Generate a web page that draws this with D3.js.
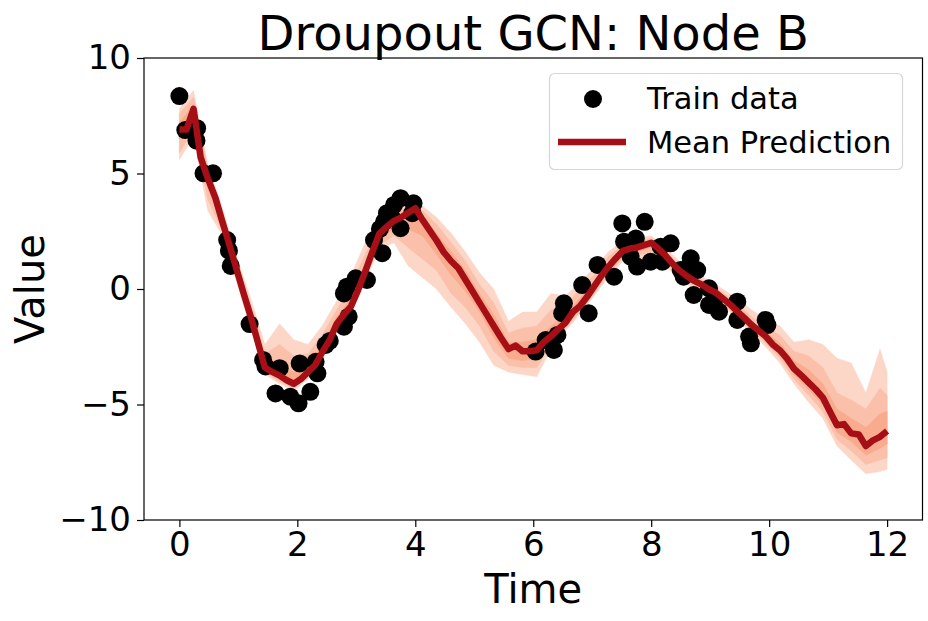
<!DOCTYPE html>
<html>
<head>
<meta charset="utf-8">
<script src="https://cdn.jsdelivr.net/npm/d3@7"></script>
<style>
  html, body { margin: 0; padding: 0; background: #fff; }
  svg { display: block; font-family: "DejaVu Sans", sans-serif; }
</style>
</head>
<body>
<svg id="chart" width="928" height="621"></svg>
<script>
// ---- Data ----
const trainT = [0.00,0.10,0.30,0.29,0.41,0.57,0.81,0.84,0.87,1.19,
  1.42,1.46,1.70,1.63,1.88,2.02,2.22,2.04,2.34,2.31,2.48,2.55,2.79,2.87,2.79,2.84,2.99,3.18,3.44,3.30,3.40,3.47,3.52,3.75,3.64,3.75,3.97,3.95,3.60,
  6.04,6.35,6.21,6.41,6.52,6.49,6.94,6.83,7.09,7.37,7.51,7.89,7.54,7.74,7.65,7.76,7.99,8.19,8.16,8.33,8.50,8.67,8.78,8.72,8.98,8.98,9.15,9.46,9.46,9.66,9.69,9.94,9.97,8.55,8.64,9.06];
const trainV = [8.35,6.88,6.96,6.42,5.01,5.01,2.12,1.66,1.00,-1.52,
  -3.07,-3.35,-3.43,-4.52,-4.66,-4.95,-4.45,-3.22,-3.65,-3.15,-2.42,-2.25,-1.63,-1.20,-0.19,0.10,0.46,0.39,1.55,2.12,2.60,2.91,3.28,2.63,3.64,3.93,3.71,3.28,3.10,
  -2.71,-2.64,-2.21,-1.99,-0.62,-1.05,-1.05,0.17,1.04,0.53,2.84,2.91,2.05,2.19,1.40,0.97,1.18,1.18,1.83,1.98,0.82,1.33,0.82,-0.26,0.03,-0.69,-0.98,-0.55,-1.34,-2.06,-2.35,-1.34,-1.56,0.53,0.97,-0.60];

const predT = [0.00,0.12,0.24,0.36,0.48,0.61,0.73,0.85,0.97,1.09,1.21,1.33,1.45,1.58,1.70,1.82,1.94,2.06,2.18,2.30,
  2.42,2.55,2.67,2.79,2.91,3.03,3.15,3.27,3.39,3.52,3.64,3.76,3.88,4.00,4.12,4.24,4.36,4.48,4.61,4.73,
  4.85,4.97,5.09,5.21,5.33,5.45,5.58,5.70,5.82,5.94,6.06,6.18,6.30,6.42,6.55,6.67,6.79,6.91,7.03,7.15,
  7.27,7.39,7.52,7.64,7.76,7.88,8.00,8.12,8.24,8.36,8.48,8.61,8.73,8.85,8.97,9.09,9.21,9.33,9.45,9.58,
  9.70,9.82,9.94,10.06,10.18,10.30,10.42,10.55,10.67,10.79,10.91,11.03,11.15,11.27,11.39,11.52,11.64,11.76,11.88,12.00];
const predMean = [6.9,6.9,7.8,5.7,4.8,3.95,2.9,1.9,0.85,-0.2,-1.2,-2.3,-3.4,-3.6,-3.75,-3.95,-4.1,-3.9,-3.6,-3.3,
  -2.75,-2.2,-1.5,-1.1,-0.75,-0.05,0.75,1.6,2.4,2.7,2.95,3.1,3.3,3.5,3.0,2.55,2.1,1.6,1.2,0.9,
  0.4,-0.1,-0.6,-1.1,-1.6,-2.1,-2.6,-2.45,-2.7,-2.7,-2.65,-2.3,-2.05,-1.75,-1.45,-1.0,-0.75,-0.35,0.1,0.55,
  0.95,1.3,1.65,1.75,1.8,1.9,2.0,1.75,1.45,1.1,0.8,0.55,0.35,0.2,0.0,-0.15,-0.4,-0.65,-0.95,-1.25,
  -1.55,-1.8,-2.05,-2.4,-2.65,-3.0,-3.45,-3.75,-4.05,-4.35,-4.7,-5.3,-5.9,-5.85,-6.25,-6.3,-6.8,-6.55,-6.4,-6.15];

const bandT = [0.00,0.24,0.48,0.73,0.97,1.21,1.45,1.70,1.94,2.18,2.42,2.67,2.91,3.15,3.39,3.64,3.88,4.12,4.36,4.61,
  4.85,5.09,5.33,5.58,5.82,6.06,6.30,6.55,6.79,7.03,7.27,7.52,7.76,8.00,8.24,8.48,8.73,8.97,9.21,9.45,
  9.70,9.94,10.18,10.42,10.67,10.91,11.15,11.39,11.64,11.88,12.00];
const outerLo = [5.6,6.6,3.4,2.3,0.3,-1.7,-3.7,-4.1,-4.4,-3.9,-3.0,-1.8,-1.0,0.4,1.7,2.0,1.0,0.5,0.0,-0.8,
  -1.5,-2.3,-3.3,-3.6,-3.7,-3.8,-2.6,-1.8,-1.1,-0.3,0.5,1.2,1.3,1.4,1.0,0.4,0.0,-0.3,-0.7,-1.3,
  -1.9,-2.5,-3.2,-4.1,-4.9,-5.6,-6.8,-7.4,-8.0,-7.9,-7.8];
const outerHi = [7.8,8.6,5.4,3.5,1.4,-0.4,-2.4,-1.5,-2.2,-2.4,-1.6,-0.5,0.6,2.0,3.0,3.4,3.8,3.6,3.1,2.4,
  1.6,0.7,0.0,-1.4,-1.0,-1.0,-0.2,-0.3,0.3,0.9,1.6,2.1,2.2,2.3,1.8,1.2,0.7,0.4,0.0,-0.4,
  -0.9,-1.3,-1.6,-2.3,-2.2,-2.4,-3.0,-3.2,-4.5,-2.6,-3.6];
const midLo = [5.9,6.9,3.9,2.5,0.5,-1.5,-3.6,-4.0,-4.3,-3.8,-2.9,-1.7,-0.9,0.5,1.9,2.3,1.8,1.3,0.8,-0.2,
  -0.8,-1.6,-2.7,-3.3,-3.4,-3.4,-2.4,-1.7,-1.0,-0.2,0.65,1.35,1.45,1.6,1.15,0.55,0.1,-0.2,-0.6,-1.2,
  -1.8,-2.35,-3.0,-3.9,-4.6,-5.3,-6.5,-7.0,-7.6,-7.4,-7.3];
const midHi = [7.6,8.3,5.2,3.3,1.2,-0.7,-2.8,-2.4,-2.9,-2.8,-2.0,-0.9,0.1,1.5,2.8,3.2,3.6,3.4,2.8,2.0,
  1.2,0.2,-0.6,-1.9,-1.7,-1.6,-0.9,-0.7,0.0,0.6,1.4,1.9,2.05,2.2,1.65,1.05,0.6,0.25,-0.15,-0.6,
  -1.2,-1.6,-2.0,-2.7,-2.9,-3.4,-4.5,-4.8,-5.2,-4.3,-4.6];
const innerLo = [6.5,7.3,4.4,2.7,0.7,-1.35,-3.5,-3.9,-4.2,-3.7,-2.85,-1.6,-0.8,0.6,2.2,2.6,2.6,2.3,1.5,0.6,
  -0.1,-1.0,-2.1,-3.0,-3.1,-3.0,-2.2,-1.6,-0.9,-0.05,0.8,1.5,1.6,1.8,1.3,0.65,0.2,-0.1,-0.5,-1.1,
  -1.7,-2.2,-2.85,-3.7,-4.35,-5.0,-6.2,-6.6,-7.2,-6.9,-6.7];
const innerHi = [7.2,8.0,5.0,3.1,1.0,-1.0,-3.1,-3.3,-3.6,-3.3,-2.4,-1.2,-0.4,1.1,2.6,3.1,3.5,3.2,2.4,1.6,
  0.8,-0.2,-1.1,-2.3,-2.3,-2.2,-1.6,-1.1,-0.4,0.35,1.15,1.8,1.95,2.1,1.55,0.95,0.5,0.1,-0.3,-0.8,
  -1.4,-1.85,-2.35,-3.1,-3.5,-4.1,-5.2,-5.6,-6.0,-5.4,-5.3];

const xTicks = [0,2,4,6,8,10,12];
const yTicks = [-10,-5,0,5,10];
const titleText = "Droupout GCN: Node B";
const legendLabels = ["Train data", "Mean Prediction"];

// ---- Layout ----
const svg = d3.select("#chart");
const L = 144, R = 922.5, T = 58, B = 520;
const x = d3.scaleLinear().domain([-0.6, 12.6]).range([L, R]);
const y = d3.scaleLinear().domain([-10, 10]).range([B, T]);
const lineColor = "#a50f15";
const tickFont = 34;

svg.append("defs").append("clipPath").attr("id", "clip")
  .append("rect").attr("x", L).attr("y", T).attr("width", R - L).attr("height", B - T);

const plot = svg.append("g").attr("clip-path", "url(#clip)");

function band(lo, hi, color) {
  const data = bandT.map((t, i) => ({t, lo: lo[i], hi: hi[i]}));
  const area = d3.area().x(d => x(d.t)).y0(d => y(d.lo)).y1(d => y(d.hi));
  plot.append("path").datum(data).attr("d", area)
    .attr("fill", color).attr("stroke", color).attr("stroke-width", 0.8).attr("stroke-opacity", 0.6);
}
band(outerLo, outerHi, "#fcd6c7");
band(midLo, midHi, "#fbc0a9");
band(innerLo, innerHi, "#f9ab8e");

// dots
plot.append("g").selectAll("circle")
  .data(trainT.map((t, i) => ({t, v: trainV[i]})))
  .join("circle")
  .attr("cx", d => x(d.t)).attr("cy", d => y(d.v)).attr("r", 9).attr("fill", "#000");

// mean line
const meanData = predT.map((t, i) => ({t, v: predMean[i]}));
plot.append("path").datum(meanData)
  .attr("d", d3.line().x(d => x(d.t)).y(d => y(d.v)))
  .attr("fill", "none").attr("stroke", lineColor).attr("stroke-width", 6.5)
  .attr("stroke-linejoin", "round").attr("stroke-linecap", "butt");

// axes
const fmt = d => d < 0 ? "\u2212" + Math.abs(d) : String(d);
const xAxis = d3.axisBottom(x).tickValues(xTicks).tickSize(7).tickPadding(5).tickFormat(fmt);
const gx = svg.append("g").attr("transform", `translate(0,${B})`).call(xAxis);
gx.select(".domain").remove();
gx.selectAll("line").attr("stroke", "#000").attr("stroke-width", 1.2);
gx.selectAll("text").attr("font-size", tickFont).attr("fill", "#000")
  .attr("font-family", "DejaVu Sans");

const yAxis = d3.axisLeft(y).tickValues(yTicks).tickSize(7).tickPadding(6).tickFormat(fmt);
const gy = svg.append("g").attr("transform", `translate(${L},0)`).call(yAxis);
gy.select(".domain").remove();
gy.selectAll("line").attr("stroke", "#000").attr("stroke-width", 1.2);
gy.selectAll("text").attr("font-size", tickFont).attr("fill", "#000")
  .attr("font-family", "DejaVu Sans");

// frame
svg.append("rect").attr("x", L).attr("y", T).attr("width", R - L).attr("height", B - T)
  .attr("fill", "none").attr("stroke", "#000").attr("stroke-width", 1.2);

// labels
svg.append("text").attr("x", (L + R) / 2).attr("y", 50).attr("text-anchor", "middle")
  .attr("font-size", 48).attr("fill", "#000").text(titleText);
svg.append("text").attr("x", (L + R) / 2).attr("y", 603).attr("text-anchor", "middle")
  .attr("font-size", 40).attr("fill", "#000").text("Time");
svg.append("text").attr("transform", `translate(44,${(T + B) / 2}) rotate(-90)`)
  .attr("text-anchor", "middle").attr("font-size", 40).attr("fill", "#000").text("Value");

// legend
const lg = svg.append("g");
lg.append("rect").attr("x", 549.5).attr("y", 73.5).attr("width", 353).attr("height", 96).attr("rx", 5)
  .attr("fill", "#fff").attr("fill-opacity", 0.8).attr("stroke", "#d6d6d6").attr("stroke-width", 1.2);
lg.append("circle").attr("cx", 593).attr("cy", 99).attr("r", 9).attr("fill", "#000");
lg.append("line").attr("x1", 558).attr("x2", 626).attr("y1", 142).attr("y2", 142)
  .attr("stroke", lineColor).attr("stroke-width", 6.5);
lg.append("text").attr("x", 647).attr("y", 109).attr("font-size", 30.5).attr("fill", "#000").text(legendLabels[0]);
lg.append("text").attr("x", 647).attr("y", 153).attr("font-size", 30.5).attr("fill", "#000").text(legendLabels[1]);
</script>
</body>
</html>
